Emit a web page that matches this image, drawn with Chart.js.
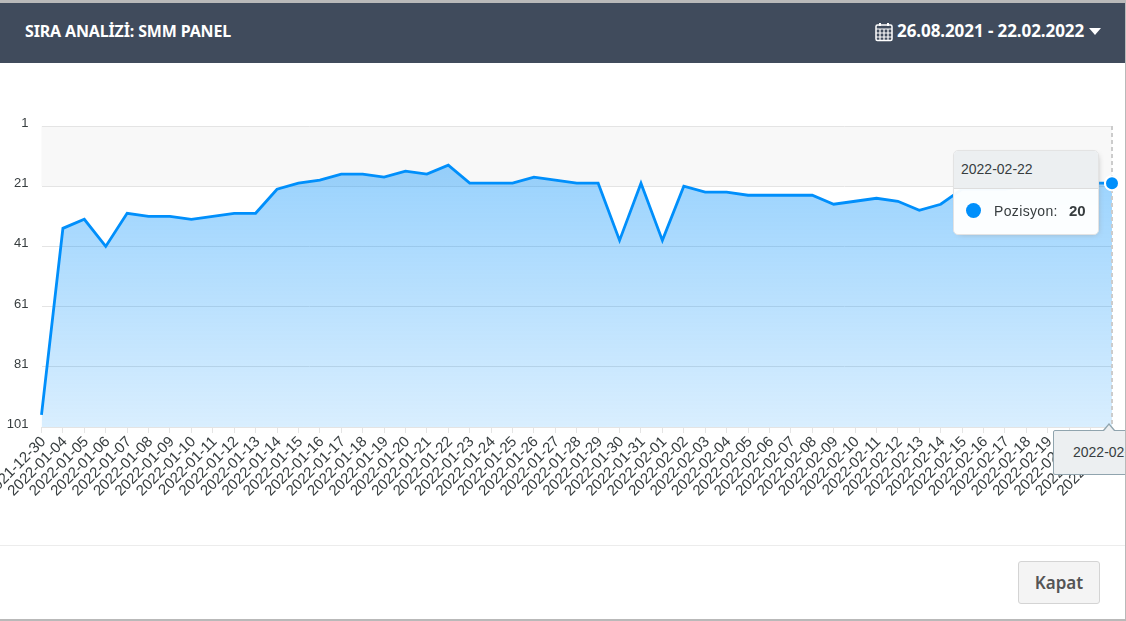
<!DOCTYPE html>
<html lang="tr">
<head>
<meta charset="utf-8">
<title>Sıra Analizi</title>
<script src="https://cdn.jsdelivr.net/npm/chart.js@4"></script>
<style>
  html, body { margin: 0; height: 100%; overflow: hidden; background: #b9b9b9; }
  #modal { position: absolute; left: 0; top: 3px; width: 1125px; height: 616px; background: #fff; overflow: hidden; }
  #head { position: absolute; left: 0; top: 0; width: 100%; height: 60px; background: #404b5c; color: #fff;
    font: 700 16px "Noto Sans", sans-serif; }
  #head .title { position: absolute; left: 25px; top: 17px; letter-spacing: -.15px; }
  #head .range { position: absolute; left: 897px; top: 16px; font-size: 17px; letter-spacing: -.08px; }
  #head svg { position: absolute; left: 875px; top: 19px; }
  #head .down { position: absolute; left: 1089px; top: 25px; width: 0; height: 0;
    border: 6.5px solid transparent; border-top: 7px solid #fff; border-bottom: 0; }
  #chart { position: absolute; left: 0; top: -3px; width: 1126px; height: 621px; }
  #foot { position: absolute; left: 0; top: 542px; width: 100%; border-top: 1px solid #ececec; }
  #close { position: absolute; left: 1018px; top: 558px; width: 80px; height: 41px; background: #f4f4f4;
    border: 1px solid #d4d4d4; border-radius: 3px; color: #555; text-align: center;
    font: 600 17px/41px "Noto Sans", sans-serif; }
  #tip { position: absolute; left: 953px; top: 147px; width: 146px; height: 85px; background: rgba(255,255,255,.96);
    border: 1px solid #e3e3e3; border-radius: 5px; box-shadow: 2px 2px 6px -4px #999; overflow: hidden;
    font: 14px "Liberation Sans", Arial, sans-serif; color: #373d3f; box-sizing: border-box; }
  #tip .t { height: 37px; line-height: 36px; padding-left: 7px; background: #eceff1; border-bottom: 1px solid #ddd; }
  #tip .dot { position: absolute; left: 12px; top: 52px; width: 15px; height: 15px; border-radius: 50%; background: #008ffb; }
  #tip .l { position: absolute; left: 40px; top: 52px; letter-spacing: .35px; }
  #tip .v { position: absolute; left: 115px; top: 51px; font-weight: 700; font-size: 15px; }
  #xtip { position: absolute; left: 1053px; top: 427px; width: 100px; height: 45px; background: #eceff1;
    border: 1px solid #90a4ae; border-radius: 2px; box-sizing: border-box; padding-left: 19px;
    font: 14px/43px "Liberation Sans", Arial, sans-serif; color: #373d3f; }
  #xcaret { position: absolute; left: 1103px; top: 420px; width: 0; height: 0;
    border: 6px solid transparent; border-bottom: 7px solid #90a4ae; border-top: 0; }
  #xcaret2 { position: absolute; left: 1104px; top: 421.5px; width: 0; height: 0;
    border: 5px solid transparent; border-bottom: 6px solid #eceff1; border-top: 0; }
</style>
</head>
<body>
<div id="modal">
  <canvas id="chart" width="1126" height="621"></canvas>
  <div id="head">
    <div class="title">SIRA ANALİZİ: SMM PANEL</div>
    <svg width="19" height="20" viewBox="0 0 19 20" fill="none" stroke="#fff">
      <rect x="1" y="3" width="16" height="15.5" rx="1.5" fill="#404b5c" stroke-width="1.5"/>
      <path d="M1 7h16M1 11h16M1 15h16M5 7v11M9 7v11M13 7v11" stroke-width="1.2"/>
      <path d="M5 1v3M13 1v3" stroke-width="2"/>
    </svg>
    <div class="range">26.08.2021 - 22.02.2022</div>
    <div class="down"></div>
  </div>
  <div id="foot"></div>
  <div id="close">Kapat</div>
  <div id="xcaret"></div>
  <div id="xtip"></div>
  <div id="xcaret2"></div>
  <div id="tip"></div>
</div>
<script>
const labels = ['2021-12-30', '2022-01-04', '2022-01-05', '2022-01-06', '2022-01-07', '2022-01-08', '2022-01-09',
  '2022-01-10', '2022-01-11', '2022-01-12', '2022-01-13', '2022-01-14', '2022-01-15', '2022-01-16', '2022-01-17',
  '2022-01-18', '2022-01-19', '2022-01-20', '2022-01-21', '2022-01-22', '2022-01-23', '2022-01-24', '2022-01-25',
  '2022-01-26', '2022-01-27', '2022-01-28', '2022-01-29', '2022-01-30', '2022-01-31', '2022-02-01', '2022-02-02',
  '2022-02-03', '2022-02-04', '2022-02-05', '2022-02-06', '2022-02-07', '2022-02-08', '2022-02-09', '2022-02-10',
  '2022-02-11', '2022-02-12', '2022-02-13', '2022-02-14', '2022-02-15', '2022-02-16', '2022-02-17', '2022-02-18',
  '2022-02-19', '2022-02-20', '2022-02-21', '2022-02-22'];
const pozisyon = [97, 35, 32, 41, 30, 31, 31, 32, 31, 30, 30, 22, 20, 19, 17, 17, 18, 16, 17, 14, 20, 20, 20,
  18, 19, 20, 20, 39, 20, 39, 21, 23, 23, 24, 24, 24, 24, 27, 26, 25, 26, 29, 27, 22, 22, 22, 21, 21, 20, 20, 20];

const blue = '#008ffb';
const gridColor = '#e4e4e4';

// the grey band of the first row and the dashed line at the hovered point
const extras = {
  id: 'extras',
  beforeDraw(chart) {
    const { ctx, chartArea, scales } = chart;
    ctx.save();
    ctx.fillStyle = '#f8f8f8';
    ctx.fillRect(chartArea.left, scales.y.getPixelForValue(1), chartArea.width,
      scales.y.getPixelForValue(21) - scales.y.getPixelForValue(1));
    ctx.restore();
  },
  afterDatasetsDraw(chart) {
    const active = chart.getActiveElements();
    if (!active.length) return;
    const { ctx, chartArea } = chart;
    ctx.save();
    ctx.strokeStyle = '#cccccc';
    ctx.setLineDash([4, 3]);
    ctx.beginPath();
    ctx.moveTo(active[0].element.x, chartArea.top);
    ctx.lineTo(active[0].element.x, chartArea.bottom);
    ctx.stroke();
    ctx.restore();
    active[0].element.draw(ctx, chartArea);
  }
};

function fillTips(context) {
  const tooltip = context.tooltip;
  if (!tooltip.dataPoints || !tooltip.dataPoints.length) return;
  const point = tooltip.dataPoints[0];
  document.getElementById('tip').innerHTML =
    '<div class="t">' + point.label + '</div><div class="dot"></div>' +
    '<div class="l">' + point.dataset.label + ':</div><div class="v">' + point.formattedValue + '</div>';
  document.getElementById('xtip').textContent = point.label;
}

const ctx = document.getElementById('chart').getContext('2d');
const fillGradient = ctx.createLinearGradient(0, 126, 0, 427);
fillGradient.addColorStop(0, 'rgba(0, 143, 251, 0.44)');
fillGradient.addColorStop(1, 'rgba(0, 143, 251, 0.15)');

const myChart = new Chart(ctx, {
  type: 'line',
  data: {
    labels: labels,
    datasets: [{
      label: 'Pozisyon',
      data: pozisyon,
      borderColor: blue,
      borderWidth: 2.8,
      backgroundColor: fillGradient,
      fill: 'start',
      tension: 0,
      clip: false,
      pointRadius: 0,
      pointHoverRadius: 7,
      pointHoverBorderWidth: 2,
      pointHoverBackgroundColor: blue,
      pointHoverBorderColor: '#fff'
    }]
  },
  plugins: [extras],
  options: {
    responsive: false,
    animation: false,
    events: [],
    layout: { padding: { left: 0, right: 14, top: 126, bottom: 114 } },
    plugins: {
      legend: { display: false },
      tooltip: { enabled: false, external: fillTips }
    },
    scales: {
      x: {
        afterFit(scale) { scale.paddingLeft = 0; scale.paddingRight = 0; scale.height = 80; },
        border: { color: gridColor },
        grid: { drawOnChartArea: false, color: gridColor, tickLength: 6 },
        ticks: {
          autoSkip: false, minRotation: 45, maxRotation: 45, padding: 0, labelOffset: 2,
          color: '#373d3f', font: { family: '"Liberation Sans", Arial, sans-serif', size: 15 }
        }
      },
      y: {
        reverse: true,
        min: 1,
        max: 101,
        afterFit(scale) { scale.width = 41.5; },
        border: { display: false },
        grid: { color: gridColor, drawTicks: false },
        ticks: {
          stepSize: 20, padding: 13, labelOffset: -2.5,
          color: '#373d3f', font: { family: '"Liberation Sans", Arial, sans-serif', size: 13 }
        }
      }
    }
  }
});

const last = [{ datasetIndex: 0, index: pozisyon.length - 1 }];
myChart.setActiveElements(last);
myChart.tooltip.setActiveElements(last, { x: 0, y: 0 });
myChart.update();
</script>
</body>
</html>
